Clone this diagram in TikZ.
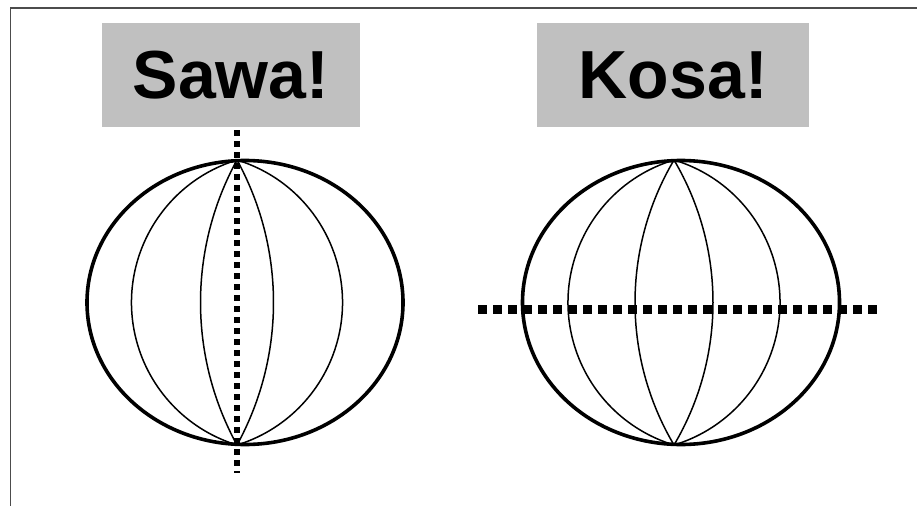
\documentclass[tikz,border=0pt]{standalone}
\usepackage{fontspec}
\setmainfont{Liberation Sans}
\definecolor{boxgray}{RGB}{192,192,192}
\newcommand\merid[2]{%
  \pgfmathsetmacro\mR{(142.5/#2*142.5+#2)/2}%
  \pgfmathsetmacro\mA{atan(142.5/(\mR-#2))}%
  \draw[meridian] (#1,160) arc[start angle=-\mA, end angle=\mA, radius=\mR];
  \draw[meridian] (#1,160) arc[start angle=180+\mA, end angle=180-\mA, radius=\mR];
}
\begin{document}
\begin{tikzpicture}[x=1pt,y=-1pt,
  titlebox/.style={fill=boxgray, inner sep=0pt, font=\bfseries\fontsize{68}{72}\selectfont},
  globe/.style={line width=3.6pt},
  meridian/.style={line width=1.5pt},
  framel/.style={draw=black!70},
  vdots/.style={line width=5.7pt, dash pattern=on 5.7pt off 5.3pt},
  hdots/.style={line width=8.3pt, dash pattern=on 8.3pt off 6.7pt}]
\useasboundingbox (0,0) rectangle (917,506);
% frame
\coordinate (f1) at (917,8);
\coordinate (f2) at (10,8);
\coordinate (f3) at (10,506);
\draw[framel, line width=2pt] (f1) -- (f2);
\draw[framel, line width=1pt] (f2) -- (f3);
% title boxes
\node[titlebox, minimum width=258.3pt, minimum height=103.4pt] (sawa) at (231,75) {Sawa!};
\node[titlebox, minimum width=272pt, minimum height=103.7pt] (kosa) at (673.3,75.2) {Kosa!};
% left globe
\draw[globe] (245,302.5) ellipse [x radius=158, y radius=142];
\merid{237}{36.5}
\merid{237}{105.5}
\coordinate (v1) at (237,130);
\coordinate (v2) at (237,473.3);
\draw[vdots] (v1) -- (v2);
% right globe
\draw[globe] (681,302.5) ellipse [x radius=158.5, y radius=142];
\merid{674}{39}
\merid{674}{106}
\coordinate (h1) at (478.3,309.5);
\coordinate (h2) at (877,309.5);
\draw[hdots] (h1) -- (h2);
\end{tikzpicture}
\end{document}
